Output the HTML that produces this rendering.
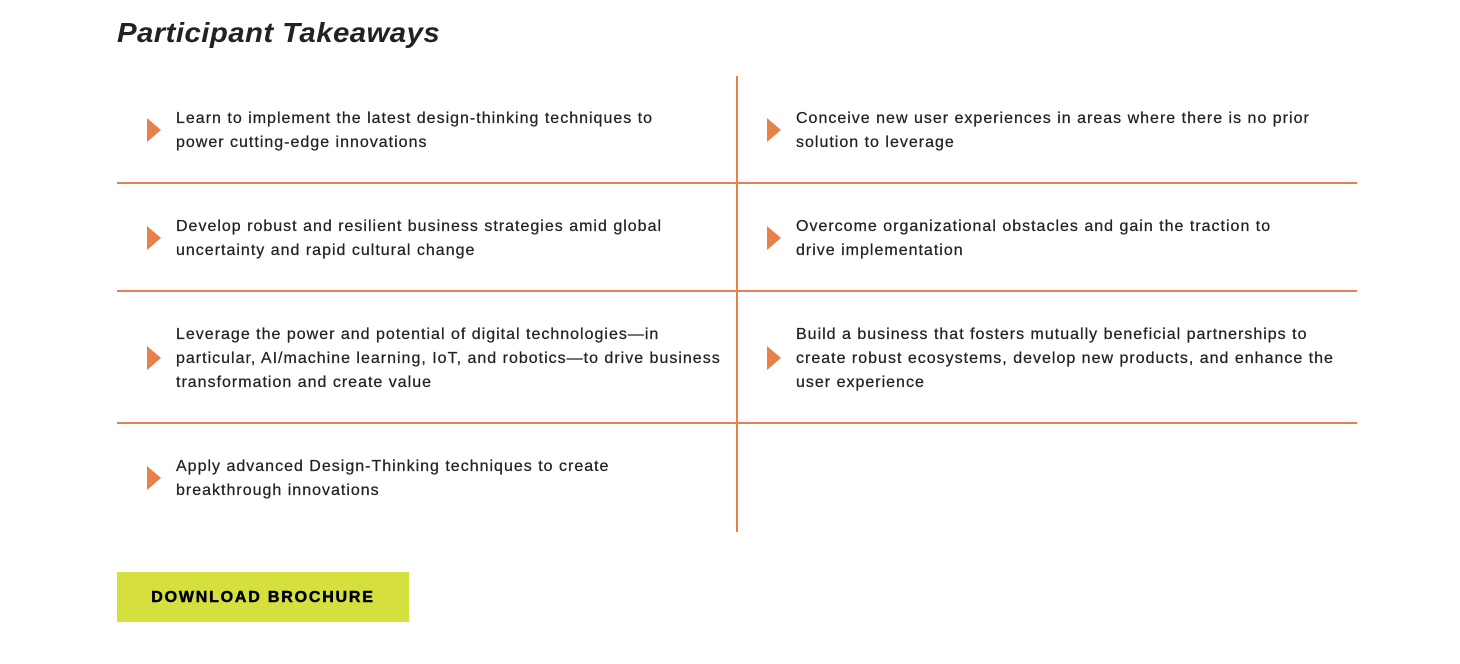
<!DOCTYPE html>
<html><head><meta charset="utf-8"><style>
body{margin:0;width:1460px;height:664px;background:#fff;position:relative;overflow:hidden;font-family:"Liberation Sans",sans-serif;color:#222}
.t{position:absolute;left:117px;top:17px;font-size:28px;font-weight:bold;font-style:italic;letter-spacing:0.4px;color:#222;transform:scaleX(1.05);transform-origin:left}
.h{position:absolute;left:117px;width:1240px;height:2px;background:#e8804a}
.v{position:absolute;left:736px;top:76px;width:2px;height:456px;background:#e8804a}
.i{position:absolute;font-size:16px;line-height:24px;letter-spacing:1px;color:#222;white-space:nowrap;-webkit-text-stroke:0.25px #222}
.a{position:absolute;width:0;height:0;border-top:12px solid transparent;border-bottom:12px solid transparent;border-left:14px solid #e8804a}
.b{position:absolute;left:117px;top:572px;width:292px;height:50px;background:#d5e03e;font-weight:bold;font-size:16px;letter-spacing:1.8px;color:#000;line-height:52px;text-align:center;-webkit-text-stroke:0.5px #000}
</style></head><body>
<div class="t">Participant Takeaways</div>
<div class="v"></div>
<div class="h" style="top:182px"></div>
<div class="h" style="top:290px"></div>
<div class="h" style="top:422px"></div>

<div class="a" style="left:147px;top:118px"></div>
<div class="i" style="left:176px;top:107px">Learn to implement the latest design-thinking techniques to<br>power cutting-edge innovations</div>
<div class="a" style="left:767px;top:118px"></div>
<div class="i" style="left:796px;top:107px">Conceive new user experiences in areas where there is no prior<br>solution to leverage</div>

<div class="a" style="left:147px;top:226px"></div>
<div class="i" style="left:176px;top:215px">Develop robust and resilient business strategies amid global<br>uncertainty and rapid cultural change</div>
<div class="a" style="left:767px;top:226px"></div>
<div class="i" style="left:796px;top:215px">Overcome organizational obstacles and gain the traction to<br>drive implementation</div>

<div class="a" style="left:147px;top:346px"></div>
<div class="i" style="left:176px;top:323px">Leverage the power and potential of digital technologies—in<br>particular, AI/machine learning, IoT, and robotics—to drive business<br>transformation and create value</div>
<div class="a" style="left:767px;top:346px"></div>
<div class="i" style="left:796px;top:323px">Build a business that fosters mutually beneficial partnerships to<br>create robust ecosystems, develop new products, and enhance the<br>user experience</div>

<div class="a" style="left:147px;top:466px"></div>
<div class="i" style="left:176px;top:455px">Apply advanced Design-Thinking techniques to create<br>breakthrough innovations</div>

<div class="b">DOWNLOAD BROCHURE</div>
</body></html>
